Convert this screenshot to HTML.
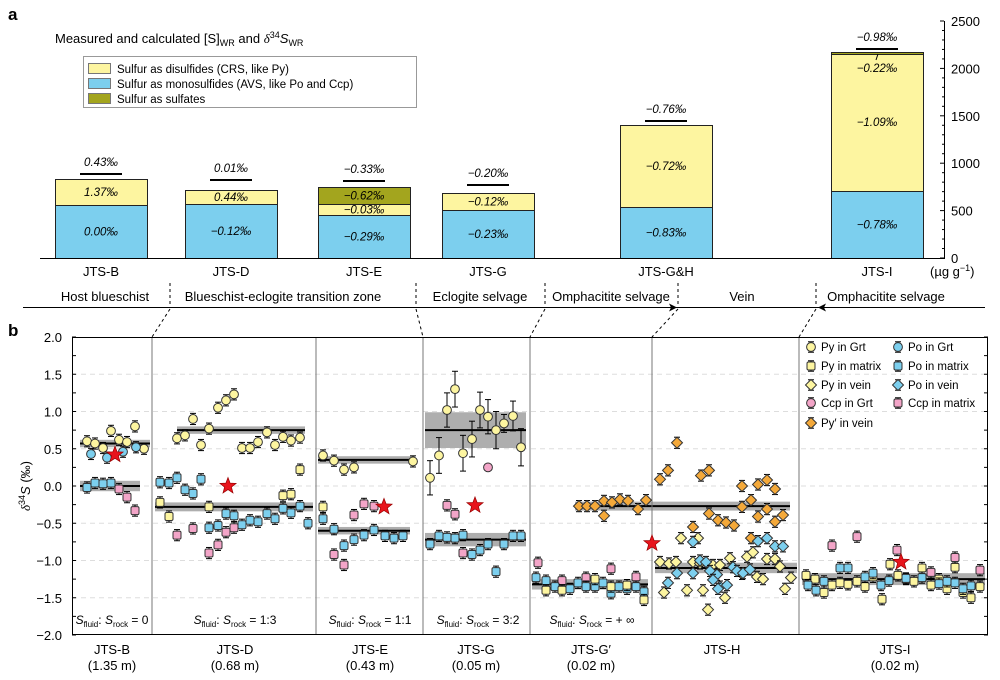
<!DOCTYPE html>
<html><head><meta charset="utf-8"><style>
body{margin:0;background:#fff;}
svg{display:block;font-family:"Liberation Sans",sans-serif;}
</style></head><body>
<svg id="s" width="1000" height="680" viewBox="0 0 1000 680" xmlns="http://www.w3.org/2000/svg">
<text x="8" y="20" font-size="17" font-weight="bold">a</text>
<text x="55" y="43" font-size="13">Measured and calculated [S]<tspan font-size="9" dy="3">WR</tspan><tspan dy="-3"> and </tspan><tspan font-style="italic" font-family="Liberation Serif">δ</tspan><tspan font-size="9" dy="-5">34</tspan><tspan dy="5" font-style="italic">S</tspan><tspan font-size="9" dy="3">WR</tspan></text>
<rect x="83.5" y="56.5" width="333" height="51" fill="#fff" stroke="#999"/>
<rect x="88.5" y="63.5" width="22" height="10" fill="#fdf5a0" stroke="#777"/>
<rect x="88.5" y="78.5" width="22" height="10" fill="#7ccfee" stroke="#777"/>
<rect x="88.5" y="93.5" width="22" height="10" fill="#a3a51e" stroke="#777"/>
<text x="117" y="73" font-size="11.5">Sulfur as disulfides (CRS, like Py)</text>
<text x="117" y="88" font-size="11.5">Sulfur as monosulfides (AVS, like Po and Ccp)</text>
<text x="117" y="103" font-size="11.5">Sulfur as sulfates</text>
<g id="a"></g>
<g id="b"></g>
</svg>
<script>
const A=document.getElementById('a'),B=document.getElementById('b');
let h='';
const Y='#fdf5a0',BL='#7ccfee',OL='#a3a51e',PK='#f3a5c8',OR='#f4a93a';
const bars=[
[55,[[205,258,BL,'0.00‰'],[179,205,Y,'1.37‰']],'0.43‰',166,'JTS-B'],
[185,[[204,258,BL,'−0.12‰'],[190,204,Y,'0.44‰']],'0.01‰',172,'JTS-D'],
[318,[[215,258,BL,'−0.29‰'],[204,215,Y,'−0.03‰'],[187,204,OL,'−0.62‰']],'−0.33‰',173,'JTS-E'],
[442,[[210,258,BL,'−0.23‰'],[193,210,Y,'−0.12‰']],'−0.20‰',177,'JTS-G'],
[620,[[207,258,BL,'−0.83‰'],[125,207,Y,'−0.72‰']],'−0.76‰',113,'JTS-G&amp;H'],
[831,[[191,258,BL,'−0.78‰'],[54,191,Y,'−1.09‰'],[52,54,OL,'']],'−0.98‰',41,'JTS-I']];
bars.forEach(b=>{const x=b[0],w=92;
b[1].forEach(s=>{h+=`<rect x="${x+.5}" y="${s[0]+.5}" width="${w}" height="${s[1]-s[0]}" fill="${s[2]}" stroke="#222" stroke-width="1"/>`;
if(s[3]){let ly=(s[0]+s[1])/2+4;if(b[4]=='JTS-I'&&s[2]==Y)ly=126;h+=`<text x="${x+w/2}" y="${ly}" font-size="11.5" font-style="italic" text-anchor="middle">${s[3]}</text>`;}});
h+=`<text x="${x+w/2}" y="${b[3]}" font-size="11.5" font-style="italic" text-anchor="middle">${b[2]}</text>`;
h+=`<line x1="${x+w/2-21}" x2="${x+w/2+21}" y1="${b[3]+8}" y2="${b[3]+8}" stroke="#000" stroke-width="2"/>`;
h+=`<text x="${x+w/2}" y="276" font-size="13" text-anchor="middle">${b[4]}</text>`;});
h+=`<text x="${831+46}" y="72" font-size="11.5" font-style="italic" text-anchor="middle">−0.22‰</text><line x1="878" y1="54" x2="876" y2="60" stroke="#000"/>`;
h+=`<line x1="40" x2="945" y1="258.5" y2="258.5" stroke="#000"/>`;
h+=`<line x1="944.5" x2="944.5" y1="21" y2="258" stroke="#000"/>`;
for(let v=0;v<=2500;v+=100){const y=258-v*0.0948;const maj=v%500==0;h+=`<line x1="${maj?940:942}" x2="944" y1="${y}" y2="${y}" stroke="#000"/>`;if(maj)h+=`<text x="951" y="${y+5}" font-size="13">${v}</text>`;}
h+=`<text x="930" y="276" font-size="13">(µg g<tspan font-size="9" dy="-5">−1</tspan><tspan dy="5">)</tspan></text>`;
[['Host blueschist',105],['Blueschist-eclogite transition zone',283],['Eclogite selvage',480],['Omphacitite selvage',611],['Vein',742],['Omphacitite selvage',886]].forEach(t=>h+=`<text x="${t[1]}" y="301" font-size="13" text-anchor="middle">${t[0]}</text>`);
h+=`<line x1="23" x2="985" y1="307.5" y2="307.5" stroke="#000"/>`;
[170,416,545,678,816].forEach(x=>h+=`<line x1="${x}" x2="${x}" y1="283" y2="307" stroke="#000" stroke-dasharray="3,3"/>`);
h+=`<path d="M677 307.5 l-8 -4 l2 4 l-2 4z M818 307.5 l8 -4 l-2 4 l2 4z" fill="#000"/>`;
[[170,152],[416,423],[545,530],[678,652],[816,799]].forEach(p=>h+=`<line x1="${p[0]}" y1="309" x2="${p[1]}" y2="337" stroke="#000" stroke-dasharray="3,3"/>`);
A.innerHTML=h;
h='';
const yv=v=>486-v*74.5;
h+=`<text x="8" y="336" font-size="17" font-weight="bold">b</text>`;
for(let v=-1.5;v<=1.51;v+=0.5)h+=`<line x1="72" x2="988" y1="${yv(v)}" y2="${yv(v)}" stroke="#ddd" stroke-dasharray="5,4"/>`;
for(let v=-2;v<=2.01;v+=0.5){const y=yv(v);h+=`<text x="62" y="${y+5}" font-size="13" text-anchor="end">${v<0?'−':''}${Math.abs(v).toFixed(1)}</text>`;}
for(let v=-2;v<=2.01;v+=0.25){const y=yv(v);h+=`<line x1="72" x2="76" y1="${y}" y2="${y}" stroke="#000"/><line x1="984" x2="988" y1="${y}" y2="${y}" stroke="#000"/>`;}
h+=`<text transform="translate(30,486) rotate(-90)" font-size="13" text-anchor="middle"><tspan font-style="italic" font-family="Liberation Serif">δ</tspan><tspan font-size="9" dy="-5">34</tspan><tspan dy="5" font-style="italic">S</tspan> (‰)</text>`;
const bands=[[80,150,0.57,0.05],[80,140,0,0.07],[177,305,0.75,0.05],[155,313,-0.28,0.06],[318,415,0.35,0.05],[318,410,-0.6,0.05],[425,526,0.75,0.24],[425,526,-0.72,0.09],[532,648,-1.32,0.07],[575,790,-0.27,0.06],[655,797,-1.1,0.07],[802,985,-1.25,0.08]];
bands.forEach(b=>{h+=`<rect x="${b[0]}" y="${yv(b[2]+b[3])}" width="${b[1]-b[0]}" height="${b[3]*2*74.5}" fill="#9a9a9a" opacity=".8"/><line x1="${b[0]}" x2="${b[1]}" y1="${yv(b[2])}" y2="${yv(b[2])}" stroke="#000" stroke-width="2"/>`;});
[152,316,423,530,652,799].forEach(x=>h+=`<line x1="${x}" x2="${x}" y1="337" y2="635" stroke="#777"/>`);
h+=`<rect x="72.5" y="337.5" width="915" height="297" fill="none" stroke="#000"/>`;
function mk(t,x,v,c,e){const y=yv(v);let s='';e=e===undefined?0.075:e;
 if(e>0){const d=e*74.5;s+=`<line x1="${x}" x2="${x}" y1="${y-d}" y2="${y+d}" stroke="#000"/><line x1="${x-3}" x2="${x+3}" y1="${y-d}" y2="${y-d}" stroke="#000"/><line x1="${x-3}" x2="${x+3}" y1="${y+d}" y2="${y+d}" stroke="#000"/>`;}
 if(t=='c')s+=`<circle cx="${x}" cy="${y}" r="4.4" fill="${c}" stroke="#333"/>`;
 else if(t=='s')s+=`<rect x="${x-4}" y="${y-4}" width="8" height="8" rx="1.5" fill="${c}" stroke="#333"/>`;
 else if(t=='d')s+=`<path d="M${x} ${y-5.5}L${x+5.5} ${y}L${x} ${y+5.5}L${x-5.5} ${y}Z" fill="${c}" stroke="#333"/>`;
 else if(t=='*'){let p=[];for(let i=0;i<10;i++){const r=i%2?3.6:8.5,a=-Math.PI/2+i*Math.PI/5;p.push((x+r*Math.cos(a)).toFixed(1)+','+(y+r*Math.sin(a)).toFixed(1));}s+=`<polygon points="${p.join(' ')}" fill="#e8141c" stroke="#900" stroke-width=".7"/>`;}
 return s;}
const P=[];
const add=(t,c,arr)=>arr.forEach(a=>P.push([t,a[0],a[1],c,a[2]]));
add('c',Y,[[87,.6],[95,.57],[103,.51],[111,.74],[119,.62],[127,.59],[135,.8],[144,.5]]);
add('c',BL,[[91,.43],[107,.38],[123,.46],[136,.52]]);
add('s',BL,[[87,-.02],[95,.04],[103,.03],[111,.04]]);
add('s',PK,[[119,-.04],[127,-.15],[135,-.33]]);
add('c',Y,[[177,.64],[185,.68],[193,.9],[209,.77],[201,.55],[218,1.05],[226,1.15],[234,1.23],[242,.51],[250,.51],[258,.59],[267,.72],[275,.55],[283,.66],[291,.61],[300,.65]]);
add('s',Y,[[160,-.22],[169,-.41],[209,-.28],[283,-.13],[291,-.11],[300,.22]]);
add('s',BL,[[160,.05],[169,.04],[177,.11],[185,-.05],[193,-.1],[201,.09],[209,-.56],[218,-.53],[226,-.37],[234,-.4],[242,-.52],[250,-.46],[258,-.48],[267,-.37],[275,-.44],[283,-.3],[291,-.36],[300,-.27],[308,-.5]]);
add('s',PK,[[177,-.66],[193,-.57],[209,-.9],[218,-.79],[226,-.62],[234,-.56]]);
add('c',Y,[[323,.41],[334,.34],[344,.22],[354,.25],[413,.33]]);
add('s',Y,[[323,-.28]]);
add('s',BL,[[323,-.44],[334,-.58],[344,-.8],[354,-.72],[364,-.66],[374,-.59],[385,-.67],[394,-.7],[403,-.67]]);
add('s',PK,[[334,-.92],[344,-1.06],[354,-.39],[364,-.24],[374,-.27]]);
add('c',Y,[[430,.11,.23],[439,.41,.24],[447,1.02,.23],[455,1.3,.24],[463,.44,.24],[472,.63,.24],[480,1.02,.24],[488,.93,.23],[496,.75,.25],[504,.84,.12],[513,.94,.2],[521,.52,.25]]);
add('c',PK,[[488,.25,0]]);
add('s',PK,[[447,-.26],[455,-.38],[463,-.9]]);
add('s',BL,[[430,-.78],[439,-.67],[447,-.69],[455,-.7],[463,-.66],[472,-.92],[480,-.86],[488,-.78],[496,-1.15],[504,-.78],[513,-.67],[521,-.67]]);
add('s',PK,[[538,-1.03],[562,-1.27],[586,-1.23],[611,-1.11],[636,-1.22]]);
add('s',BL,[[536,-1.23],[546,-1.27],[555,-1.35],[570,-1.38],[578,-1.3],[586,-1.35],[595,-1.35],[603,-1.3],[611,-1.44],[619,-1.35],[627,-1.38],[636,-1.35],[644,-1.42]]);
add('s',Y,[[546,-1.4],[562,-1.4],[595,-1.25],[611,-1.35],[627,-1.33],[644,-1.53]]);
add('d',OR,[[579,-.27],[587,-.27],[595,-.27],[604,-.2],[612,-.22],[620,-.18],[628,-.2],[638,-.31],[646,-.19],[604,-.4]]);
add('d',OR,[[660,.09],[668,.21],[677,.58],[701,.14],[709,.21],[742,0],[767,.08],[758,.02],[751,-.19],[742,-.28],[767,-.31],[758,-.41],[775,-.04],[775,-.48],[783,-.39],[709,-.37],[718,-.46],[726,-.49],[734,-.53],[693,-.55],[751,-.7]]);
add('d',Y,[[681,-.7],[698,-.7],[660,-1.02],[669,-1.04],[676,-1.02],[693,-1.02],[700,-1.04],[713,-1.06],[720,-1.06],[730,-.97],[747,-.95],[753,-.89],[767,-.98],[775,-.98],[780,-1.08],[791,-1.23],[664,-1.43],[687,-1.4],[703,-1.4],[708,-1.66],[725,-1.5],[742,-1.18],[757,-1.22],[763,-1.25],[785,-1.38]]);
add('d',BL,[[693,-.75],[677,-1.17],[668,-1.3],[693,-1.17],[700,-1],[706,-1.02],[710,-1.14],[717,-1.19],[720,-1.35],[727,-1.33],[733,-1.09],[737,-1.14],[743,-1.17],[750,-1.12],[758,-.74],[767,-.7],[775,-.81],[783,-.81],[718,-1.38],[713,-1.26]]);
add('s',Y,[[806,-1.2],[815,-1.25],[824,-1.43],[832,-1.33],[840,-1.3],[848,-1.32],[857,-1.28],[865,-1.35],[873,-1.22],[882,-1.52],[890,-1.05],[898,-1.2],[906,-1.25],[914,-1.28],[922,-1.1],[931,-1.33],[939,-1.25],[947,-1.38],[955,-1.09],[963,-1.43],[971,-1.5],[980,-1.35]]);
add('s',BL,[[808,-1.33],[816,-1.4],[824,-1.28],[840,-1.1],[848,-1.1],[865,-1.22],[873,-1.17],[881,-1.33],[889,-1.27],[906,-1.24],[922,-1.23],[939,-1.31],[947,-1.28],[955,-1.3],[963,-1.38],[971,-1.34]]);
add('s',PK,[[832,-.8],[857,-.68],[897,-.86],[931,-1.16],[955,-.96],[980,-1.13]]);
P.forEach(p=>h+=mk(p[0],p[1],p[2],p[3],p[4]));
[[115,.42],[228,0],[384,-.28],[475,-.26],[652,-.77],[901,-1.02]].forEach(s=>h+=mk('*',s[0],s[1],'',0));
[[112,'= 0'],[235,'= 1:3'],[370,'= 1:1'],[478,'= 3:2'],[592,'= + ∞']].forEach(r=>h+=`<text x="${r[0]}" y="624" font-size="12" text-anchor="middle"><tspan font-style="italic">S</tspan><tspan font-size="8" dy="3">fluid</tspan><tspan dy="-3">: </tspan><tspan font-style="italic">S</tspan><tspan font-size="8" dy="3">rock</tspan><tspan dy="-3"> ${r[1]}</tspan></text>`);
[[112,'JTS-B','(1.35 m)'],[235,'JTS-D','(0.68 m)'],[370,'JTS-E','(0.43 m)'],[476,'JTS-G','(0.05 m)'],[591,'JTS-G′','(0.02 m)'],[722,'JTS-H',''],[895,'JTS-I','(0.02 m)']].forEach(l=>h+=`<text x="${l[0]}" y="654" font-size="13" text-anchor="middle">${l[1]}</text><text x="${l[0]}" y="670" font-size="13" text-anchor="middle">${l[2]}</text>`);
const L=[['c',Y,811,347,'Py in Grt'],['s',Y,811,366,'Py in matrix'],['d',Y,811,385,'Py in vein'],['c',PK,811,403,'Ccp in Grt'],['d',OR,811,423,'Py′ in vein'],['c',BL,898,347,'Po in Grt'],['s',BL,898,366,'Po in matrix'],['d',BL,898,385,'Po in vein'],['s',PK,898,403,'Ccp in matrix']];
L.forEach(l=>{const v=(486-l[3])/74.5;h+=mk(l[0],l[2],v,l[1],0.07)+`<text x="${l[2]+10}" y="${l[3]+4}" font-size="11.5">${l[4]}</text>`;});
B.innerHTML=h;
</script>
</body></html>
